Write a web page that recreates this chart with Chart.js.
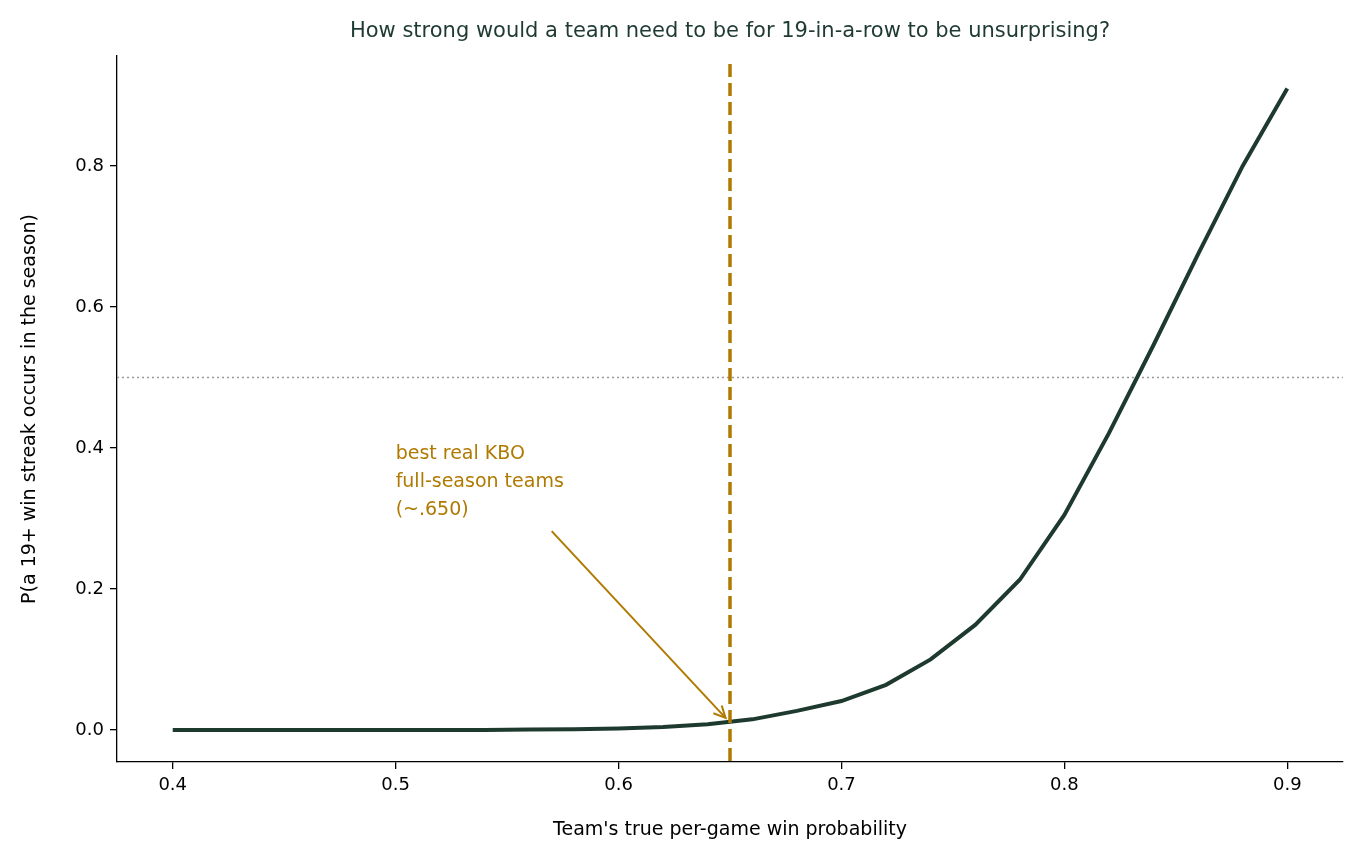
<!DOCTYPE html>
<html>
<head>
<meta charset="UTF-8">
<script src="https://cdn.jsdelivr.net/npm/chart.js"></script>
<style>
  body { margin: 0; background: #fff; font-family: "DejaVu Sans", sans-serif; }
  #wrap { width: 1362px; height: 863px; }
</style>
</head>
<body>
<div id="wrap"><canvas id="c" width="1362" height="863"></canvas></div>
<script>
const winProb = [0.40,0.42,0.44,0.46,0.48,0.50,0.52,0.54,0.56,0.58,0.60,0.62,0.64,0.66,0.68,0.70,0.72,0.74,0.76,0.78,0.80,0.82,0.84,0.86,0.88,0.90];
const streakProb = [0,0,0,0,0,0,0,0,0.0005,0.001,0.002,0.004,0.008,0.015,0.027,0.041,0.064,0.10,0.149,0.213,0.305,0.421,0.546,0.675,0.80,0.91];
const xTicks = [0.4,0.5,0.6,0.7,0.8,0.9];
const yTicks = [0,0.2,0.4,0.6,0.8];
const titleText = "How strong would a team need to be for 19-in-a-row to be unsurprising?";
const noteLines = ["best real KBO", "full-season teams", "(~.650)"];
const kboLine = 0.65, halfLine = 0.5;

const gold = "#b07a00", dark = "#1e3a2f";
Chart.defaults.font.family = "'DejaVu Sans', sans-serif";

const overlay = {
  id: "overlay",
  beforeDatasetsDraw(chart) {
    const {ctx, chartArea: a, scales: {x, y}} = chart;
    ctx.save();
    ctx.strokeStyle = "#999"; ctx.lineWidth = 1.6; ctx.setLineDash([2, 3]);
    ctx.beginPath(); ctx.moveTo(a.left, y.getPixelForValue(halfLine)); ctx.lineTo(a.right, y.getPixelForValue(halfLine)); ctx.stroke();
    ctx.restore();
  },
  afterDatasetsDraw(chart) {
    const {ctx, chartArea: a, scales: {x, y}} = chart;
    ctx.save();
    ctx.strokeStyle = gold; ctx.lineWidth = 3.5; ctx.setLineDash([13, 6]);
    const vx = x.getPixelForValue(kboLine);
    ctx.beginPath(); ctx.moveTo(vx, a.top + 8); ctx.lineTo(vx, a.bottom); ctx.stroke();
    ctx.setLineDash([]);
    // arrow
    const x0 = x.getPixelForValue(0.57), y0 = y.getPixelForValue(0.282);
    const x1 = x.getPixelForValue(0.648), y1 = y.getPixelForValue(0.017);
    ctx.lineWidth = 2;
    ctx.beginPath(); ctx.moveTo(x0, y0); ctx.lineTo(x1, y1); ctx.stroke();
    const ang = Math.atan2(y1 - y0, x1 - x0);
    ctx.beginPath();
    ctx.moveTo(x1 - 13 * Math.cos(ang - 0.45), y1 - 13 * Math.sin(ang - 0.45));
    ctx.lineTo(x1, y1);
    ctx.lineTo(x1 - 13 * Math.cos(ang + 0.45), y1 - 13 * Math.sin(ang + 0.45));
    ctx.stroke();
    // note
    ctx.fillStyle = gold; ctx.font = "19px 'DejaVu Sans'"; ctx.textBaseline = "top";
    noteLines.forEach((t, i) => ctx.fillText(t, x.getPixelForValue(0.5), 445 + i * 28));
    // title
    ctx.fillStyle = "#1f3a33"; ctx.font = "21px 'DejaVu Sans'"; ctx.textAlign = "center"; ctx.textBaseline = "middle";
    ctx.fillText(titleText, (a.left + a.right) / 2, 32);
    ctx.restore();
  }
};

new Chart(document.getElementById("c"), {
  type: "line",
  data: { datasets: [{
    data: winProb.map((v, i) => ({x: v, y: streakProb[i]})),
    borderColor: dark, borderWidth: 4, pointRadius: 0, tension: 0, fill: false
  }]},
  options: {
    responsive: false, animation: false,
    layout: { padding: { top: 56, right: 19, left: 15, bottom: 18 } },
    plugins: { legend: { display: false }, tooltip: { enabled: false } },
    scales: {
      x: {
        type: "linear", min: 0.375, max: 0.925,
        afterBuildTicks: s => { s.ticks = xTicks.map(v => ({value: v})); },
        afterFit: s => { s.height = 83; },
        grid: { drawOnChartArea: false, tickLength: 7, color: "#000", lineWidth: 1.3 },
        border: { color: "#000", width: 1.3 },
        ticks: { color: "#000", font: { size: 18 }, padding: 6, callback: v => String(v) },
        title: { display: true, text: "Team's true per-game win probability", color: "#000", font: { size: 19 }, padding: { top: 4 } }
      },
      y: {
        min: -0.0455, max: 0.956,
        afterBuildTicks: s => { s.ticks = yTicks.map(v => ({value: v})); },
        afterFit: s => { s.width = 102; },
        grid: { drawOnChartArea: false, tickLength: 7, color: "#000", lineWidth: 1.3 },
        border: { color: "#000", width: 1.3 },
        ticks: { color: "#000", font: { size: 18 }, padding: 6, callback: v => v.toFixed(1) },
        title: { display: true, text: "P(a 19+ win streak occurs in the season)", color: "#000", font: { size: 19 }, padding: { bottom: 6 } }
      }
    }
  },
  plugins: [overlay]
});
</script>
</body>
</html>
